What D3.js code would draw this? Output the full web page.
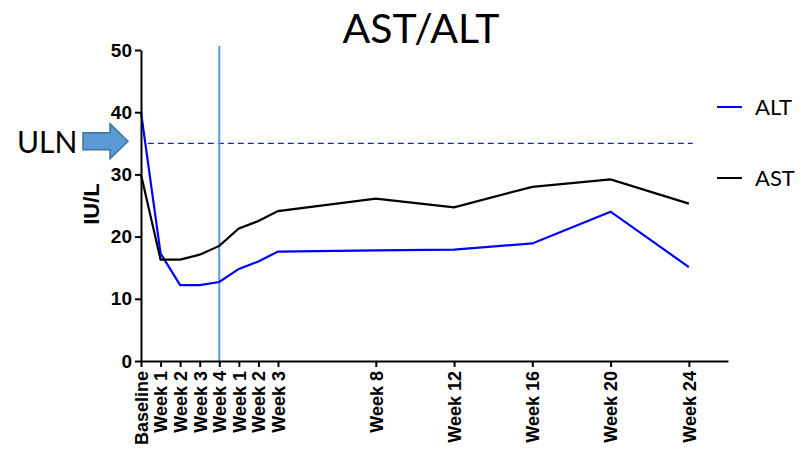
<!DOCTYPE html>
<html><head><meta charset="utf-8">
<script src="https://cdn.jsdelivr.net/npm/d3@7"></script>
<style>body{margin:0;background:#fff}svg{display:block}</style>
</head><body>
<svg id="c" width="806" height="451"></svg>
<script>
const categories = ["Baseline","Week 1","Week 2","Week 3","Week 4","Week 1","Week 2","Week 3","Week 8","Week 12","Week 16","Week 20","Week 24"];
const weekIndex = [0,1,2,3,4,5,6,7,12,16,20,24,28];
const altValues = [40, 17.3, 12.2, 12.2, 12.7, 14.8, 16.0, 17.6, 17.8, 17.9, 18.9, 24.0, 15.1];
const astValues = [30, 16.3, 16.3, 17.1, 18.5, 21.3, 22.5, 24.1, 26.1, 24.7, 28.0, 29.2, 25.3];
const yTicks = [0,10,20,30,40,50];
const ulnValue = 35;
const markerWeek = 4;
const series = [
  {name:"ALT", values: altValues, color:"#0000ff"},
  {name:"AST", values: astValues, color:"#000000"}
];

const svg = d3.select("#c");
const x = d3.scaleLinear().domain([0,30]).range([141,728]);
const y = d3.scaleLinear().domain([0,50]).range([361,50]);
const boldFont = "'Liberation Sans', Arial, sans-serif";
const lightFont = "Lato, 'Open Sans', sans-serif";

// title
svg.append("text").attr("x",421).attr("y",43).attr("text-anchor","middle")
  .style("font-family",lightFont).style("font-size","41px").text("AST/ALT");

// ULN dashed line
svg.append("line").attr("x1",x(0.35)).attr("x2",x(28.2)).attr("y1",y(ulnValue)).attr("y2",y(ulnValue))
  .attr("stroke","#1a1aff").attr("stroke-width",1.3).attr("stroke-dasharray","6,4");

// vertical marker
svg.append("line").attr("x1",x(markerWeek)).attr("x2",x(markerWeek)).attr("y1",46).attr("y2",y(0))
  .attr("stroke","#5b9bd5").attr("stroke-width",2);

// lines
const line = d3.line().x((d,i)=>x(weekIndex[i])).y(d=>y(d));
series.forEach(s=>{
  svg.append("path").datum(s.values).attr("d",line).attr("fill","none")
    .attr("stroke",s.color).attr("stroke-width",2.2).attr("stroke-linejoin","miter");
});

// axes
const yAxis = d3.axisLeft(y).tickValues(yTicks).tickSize(6).tickPadding(3).tickSizeOuter(0);
const gy = svg.append("g").attr("transform",`translate(${x(0)},0)`).call(yAxis);
gy.select(".domain").attr("stroke","#000").attr("stroke-width",2);
gy.selectAll(".tick line").attr("stroke","#000").attr("stroke-width",2);
gy.selectAll(".tick text").style("font-family",boldFont).style("font-weight","bold").style("font-size","19px").attr("fill","#000");

const xAxis = d3.axisBottom(x).tickValues(weekIndex).tickFormat((d,i)=>categories[i]).tickSize(6).tickSizeOuter(0);
const gx = svg.append("g").attr("transform",`translate(0,${y(0)})`).call(xAxis);
gx.select(".domain").attr("stroke","#000").attr("stroke-width",2);
gx.selectAll(".tick line").attr("stroke","#000").attr("stroke-width",2);
gx.selectAll(".tick text").style("font-family",boldFont).style("font-weight","bold").style("font-size","18px").attr("fill","#000")
  .attr("text-anchor","end").attr("transform","rotate(-90)").attr("x",-10).attr("y",0).attr("dy","0.35em");

// y label
svg.append("text").attr("transform","translate(99,204) rotate(-90)").attr("text-anchor","middle")
  .style("font-family",boldFont).style("font-weight","bold").style("font-size","22px").text("IU/L");

// ULN arrow annotation
const ay = y(ulnValue) - 2;
svg.append("path")
  .attr("d",`M83,${ay-8.5} L110,${ay-8.5} L110,${ay-17.5} L128,${ay} L110,${ay+17.5} L110,${ay+8.5} L83,${ay+8.5} Z`)
  .attr("fill","#5b9bd5").attr("stroke","#41719c").attr("stroke-width",1.5);
svg.append("text").attr("x",17).attr("y",153).style("font-family",lightFont).style("font-size","30px").text("ULN");

// legend
const legY = [107, 178];
series.forEach((s,i)=>{
  svg.append("line").attr("x1",717).attr("x2",742).attr("y1",legY[i]).attr("y2",legY[i])
    .attr("stroke",s.color).attr("stroke-width",2);
  svg.append("text").attr("x",755).attr("y",legY[i]).attr("dy","0.36em")
    .style("font-family",lightFont).style("font-size","22px").text(s.name);
});
</script>
</body></html>
